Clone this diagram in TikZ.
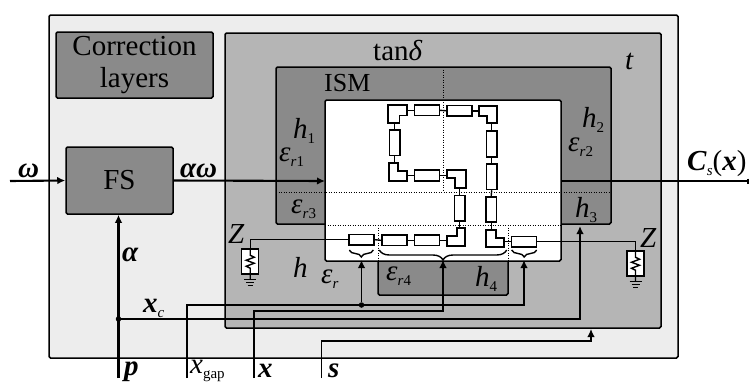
\documentclass[tikz,border=0pt]{standalone}
\usepackage{fontspec}
\setmainfont{Liberation Serif}
\usetikzlibrary{arrows.meta,decorations.pathreplacing}

\newcommand{\subtxt}[1]{\raisebox{-0.2em}{\fontsize{15}{15}\selectfont #1}}
\newcommand{\boldit}[1]{\textbf{\textit{#1}}}

\definecolor{lightlayer}{HTML}{EDEDED}
\definecolor{midlayer}{HTML}{B5B5B5}
\definecolor{darklayer}{HTML}{8A8A8A}

\tikzset{
	layerbox/.style={draw,line width=1.5,rounded corners=1.5},
	blockbox/.style={layerbox,fill=darklayer,inner sep=0,font=\fontsize{29}{32}\selectfont,align=center},
	lbl/.style={inner sep=0,anchor=base west,font=\fontsize{29}{29}\selectfont},
	gridline/.style={line width=1,dash pattern=on 1pt off 1.5pt},
	elemrect/.style={draw,fill=white,line width=1.6,inner sep=0,minimum width=25,minimum height=10.5},
	elemvert/.style={draw,fill=white,line width=1.6,inner sep=0,minimum width=10.5,minimum height=25.5},
	elemcorner/.style={draw,fill=white,line width=1.7},
	resbox/.style={draw,fill=white,line width=1.5,inner sep=0,minimum width=17,minimum height=25},
	thinwire/.style={line width=1.4},
	midwire/.style={line width=1.7},
	thickwire/.style={line width=2.1},
	sigtip/.style={-{Latex[length=8pt,width=7.5pt]}},
	bracepen/.style={line width=1.4,decorate,decoration={brace,mirror,amplitude=#1}},
	wiredot/.style={circle,fill,inner sep=0,minimum size=5.5}
}

\begin{document}
\begin{tikzpicture}[x=1pt,y=-1pt]
	\useasboundingbox (0,0) rectangle (749,383);

	\draw [layerbox,fill=lightlayer] (49,15) rectangle (678,358);
	\draw [layerbox,fill=midlayer] (225,33) rectangle (661,328);
	\draw [layerbox,fill=darklayer] (276,67) rectangle (611,224);
	\draw [layerbox,fill=darklayer] (378,250) rectangle (508,295);
	\draw [layerbox,fill=white] (325,100) rectangle (561,261);

	\node [blockbox,minimum width=157,minimum height=66] (correction) at (134.5,65) {Correction\\layers};
	\node [blockbox,minimum width=107,minimum height=67] (fs) at (119.5,180.5) {FS};

	\draw [gridline] (443,67) -- (443,192);
	\draw [gridline] (276,192) -- (611,192);
	\draw [gridline] (325,225) -- (561,225);
	\draw [gridline] (378,225) -- (378,261);
	\draw [gridline] (508,225) -- (508,261);

	\node [elemrect] (t1) at (426.8,110.3) {};
	\node [elemrect] (t2) at (459.5,110.8) {};
	\node [elemvert] (l1) at (394.7,142.8) {};
	\node [elemrect] (m1) at (427,175.5) {};
	\node [elemvert] (v2) at (459.7,208.2) {};
	\node [elemrect] (b1) at (394.3,240.3) {};
	\node [elemrect] (b2) at (426.8,240.3) {};
	\node [elemrect] (s1) at (361.3,239.7) {};
	\node [elemvert] (r1) at (491.7,144) {};
	\node [elemvert] (r2) at (491.7,176.7) {};
	\node [elemvert] (r3) at (491.2,209.5) {};
	\node [elemrect] (s2) at (524,241.7) {};

	\coordinate (c1e) at (407,110.3);
	\coordinate (c1s) at (394.7,123);
	\coordinate (c2w) at (479.3,110.8);
	\coordinate (c2s) at (491.7,123.3);
	\coordinate (c3n) at (394.7,163.3);
	\coordinate (c3e) at (407.3,175.5);
	\coordinate (c4w) at (447.3,175.5);
	\coordinate (c4s) at (459.7,188.3);
	\coordinate (c5n) at (491.2,229.7);
	\coordinate (c5e) at (504,241.7);
	\coordinate (c6n) at (459.7,228.3);
	\coordinate (c6w) at (446.7,240.3);

	\draw [thinwire] (c1e) -- (t1.west);
	\draw [thinwire] (t1.east) -- (t2.west);
	\draw [thinwire] (t2.east) -- (c2w);
	\draw [thinwire] (c2s) -- (r1.north);
	\draw [thinwire] (r1.south) -- (r2.north);
	\draw [thinwire] (r2.south) -- (r3.north);
	\draw [thinwire] (r3.south) -- (c5n);
	\draw [thinwire] (c5e) -- (s2.west);
	\draw [thinwire] (c1s) -- (l1.north);
	\draw [thinwire] (l1.south) -- (c3n);
	\draw [thinwire] (c3e) -- (m1.west);
	\draw [thinwire] (m1.east) -- (c4w);
	\draw [thinwire] (c4s) -- (v2.north);
	\draw [thinwire] (v2.south) -- (c6n);
	\draw [thinwire] (c6w) -- (b2.east);
	\draw [thinwire] (b2.west) -- (b1.east);
	\draw [thinwire] (b1.west) -- (s1.east);

	\draw [elemcorner] (388,105) -- (407,105) -- (407,115.5) -- (399.5,115.5) -- (399.5,123) -- (388,123) -- cycle;
	\draw [elemcorner] (479.3,105.7) -- (497.3,105.7) -- (497.3,123.3) -- (486.7,123.3) -- (486.7,116) -- (479.3,116) -- cycle;
	\draw [elemcorner] (389.3,163.3) -- (398.3,163.3) -- (398.3,170.7) -- (407.3,170.7) -- (407.3,180.7) -- (389.3,180.7) -- cycle;
	\draw [elemcorner] (447.3,170.3) -- (465.7,170.3) -- (465.7,188.3) -- (455,188.3) -- (455,178.3) -- (447.3,178.3) -- cycle;
	\draw [elemcorner] (456.7,228.3) -- (465.3,228.3) -- (465.3,246) -- (446.7,246) -- (446.7,235.7) -- (456.7,235.7) -- cycle;
	\draw [elemcorner] (486,229.7) -- (495.7,229.7) -- (495.7,238.3) -- (504,238.3) -- (504,247) -- (486,247) -- cycle;

	\node [resbox] (rl) at (250.2,261.5) {};
	\node [resbox] (rr) at (635.5,263.5) {};
	\coordinate (zl) at (rl.north |- s1.west);
	\coordinate (zr) at (rr.north |- s2.east);
	\draw [thinwire] (s1.west) -- (zl) -- (rl.north);
	\draw [thinwire] (s2.east) -- (zr) -- (rr.north);
	\foreach \resname in {rl,rr} {
		\draw [thinwire] (\resname.north) -- ++(0,7) -- ++(4,2) -- ++(-8,3) -- ++(8,3) -- ++(-8,3) -- ++(4,2) -- (\resname.south) -- ++(0,5);
		\draw [thinwire] (\resname.south) ++(-6,5) -- ++(12,0);
		\draw [thinwire] (\resname.south) ++(-4,8) -- ++(8,0);
		\draw [thinwire] (\resname.south) ++(-2.5,11) -- ++(5,0);
	}

	\draw [bracepen=7] (349.3,250) -- (373.3,250);
	\draw [bracepen=10] (379.3,250) -- (506.7,250);
	\draw [bracepen=7] (511.7,250) -- (536.7,250);

	\coordinate (omegain) at (10,181);
	\coordinate (ismin) at (325,181);
	\coordinate (ismout) at (561,181);
	\coordinate (csout) at (748,181);
	\coordinate (pin) at (118.5,378);
	\coordinate (gapin) at (187,378);
	\coordinate (xin) at (254,378);
	\coordinate (sin) at (321.5,378);
	\coordinate (h3tip) at (580,226);
	\coordinate (gapltip) at (361.5,260);
	\coordinate (gaprtip) at (524,260);
	\coordinate (braceltip) at (443,260);
	\coordinate (stip) at (591,329);

	\draw [thickwire,sigtip] (omegain) -- (fs.west);
	\draw [thickwire,sigtip] (fs.east) -- (ismin);
	\draw [thickwire] (ismout) -- (csout);
	\draw [thickwire] (csout) ++(0,-2.5) -- ++(0,5);
	\draw [thickwire,sigtip] (pin) -- (pin |- fs.south);

	\node [wiredot] (pdot) at (118.5,319) {};
	\node [wiredot] (gapdot) at (361.5,305) {};
	\draw [thickwire,sigtip] (pdot) -| (h3tip);
	\draw [thinwire] (gapin) |- (gapdot);
	\draw [midwire,sigtip] (gapdot) -| (gaprtip);
	\draw [midwire,sigtip] (gapdot) -- (gapltip);
	\draw [thinwire,sigtip] (xin) |- (443,311) -- (braceltip);
	\draw [thinwire,sigtip] (sin) |- (591,341) -- (stip);

	\node [lbl] (tandelta) at (373,60) {tan\textit{δ}};
	\node [lbl] (tlbl) at (625,69) {\textit{t}};
	\node [lbl,font=\fontsize{26}{26}\selectfont] (ism) at (324,91) {ISM};
	\node [lbl] (h1) at (293,138) {\textit{h}\subtxt{1}};
	\node [lbl] (h2) at (582,127) {\textit{h}\subtxt{2}};
	\node [lbl] (h3) at (575,217) {\textit{h}\subtxt{3}};
	\node [lbl] (h4) at (475,286) {\textit{h}\subtxt{4}};
	\node [lbl] (hlbl) at (293,277) {\textit{h}};
	\node [lbl] (er1) at (279,161) {\textit{ε}\subtxt{\textit{r}1}};
	\node [lbl] (er2) at (568,151) {\textit{ε}\subtxt{\textit{r}2}};
	\node [lbl] (er3) at (291,213) {\textit{ε}\subtxt{\textit{r}3}};
	\node [lbl] (er4) at (386,280) {\textit{ε}\subtxt{\textit{r}4}};
	\node [lbl] (erlbl) at (321,283) {\textit{ε}\subtxt{\textit{r}}};
	\node [lbl] (zleft) at (228,243) {\textit{Z}};
	\node [lbl] (zright) at (640,247) {\textit{Z}};
	\node [lbl] (omegalbl) at (18,177) {\boldit{ω}};
	\node [lbl] (aolbl) at (180,177) {\boldit{αω}};
	\node [lbl] (alphalbl) at (122,261) {\boldit{α}};
	\node [lbl] (xclbl) at (143,312) {\boldit{x}\subtxt{\textit{c}}};
	\node [lbl] (plbl) at (124,375) {\boldit{p}};
	\node [lbl] (xgaplbl) at (190,373) {\textit{x}\subtxt{gap}};
	\node [lbl] (xlbl) at (258,377) {\boldit{x}};
	\node [lbl] (slbl) at (328,377) {\boldit{s}};
	\node [lbl] (cslbl) at (687,170) {\boldit{C}\subtxt{\textit{s}}(\boldit{x})};
\end{tikzpicture}
\end{document}
